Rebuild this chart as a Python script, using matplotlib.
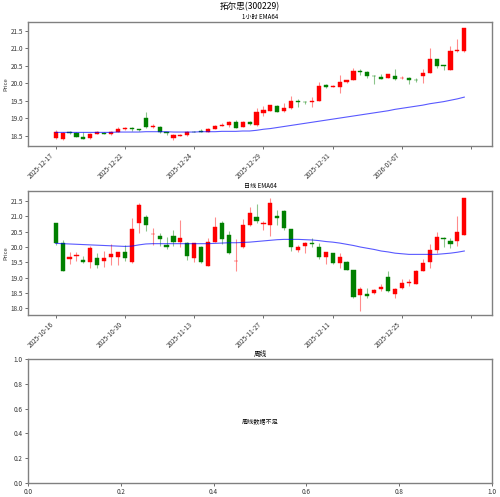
import numpy as np
import matplotlib
matplotlib.use("Agg")
import matplotlib.pyplot as plt

plt.rcParams['font.family'] = ['Noto Sans CJK SC', 'DejaVu Sans']
plt.rcParams['axes.unicode_minus'] = False

# ---- 1 hour bars ----
h_labels = ['2025-12-17', '2025-12-22', '2025-12-24', '2025-12-29', '2025-12-31', '2026-01-07', '']
h_open = [18.43, 18.40, 18.59, 18.56, 18.47, 18.44, 18.55, 18.58, 18.54, 18.60,
          18.69, 18.71, 18.68, 18.99, 18.75, 18.75, 18.59, 18.43, 18.49, 18.52,
          18.61, 18.64, 18.61, 18.69, 18.77, 18.81, 18.88, 18.75, 18.89, 18.80,
          19.14, 19.21, 19.35, 19.20, 19.28, 19.49, 19.46, 19.47, 19.49, 19.94,
          19.90, 19.90, 20.03, 20.09, 20.36, 20.33, 20.21, 20.19, 20.15, 20.20,
          20.14, 20.15, 20.10, 20.21, 20.29, 20.69, 20.52, 20.38, 20.91, 20.91]
h_close = [18.60, 18.58, 18.57, 18.47, 18.41, 18.54, 18.59, 18.55, 18.60, 18.68,
           18.71, 18.69, 18.67, 18.74, 18.78, 18.59, 18.56, 18.52, 18.51, 18.61,
           18.60, 18.61, 18.70, 18.77, 18.80, 18.89, 18.73, 18.90, 18.83, 19.17,
           19.24, 19.36, 19.18, 19.30, 19.50, 19.47, 19.45, 19.49, 19.92, 19.89,
           19.93, 20.04, 20.08, 20.35, 20.33, 20.21, 20.20, 20.13, 20.26, 20.13,
           20.16, 20.08, 20.08, 20.29, 20.69, 20.48, 20.48, 20.93, 20.95, 21.58]
h_high = [18.66, 18.61, 18.62, 18.60, 18.61, 18.56, 18.62, 18.60, 18.62, 18.74,
          18.74, 18.74, 18.70, 19.16, 18.82, 18.77, 18.60, 18.55, 18.53, 18.62,
          18.62, 18.68, 18.72, 18.79, 18.85, 18.93, 18.94, 18.91, 18.91, 19.29,
          19.34, 19.37, 19.36, 19.43, 19.63, 19.55, 19.50, 19.60, 20.03, 19.97,
          19.95, 20.23, 20.10, 20.43, 20.40, 20.34, 20.22, 20.25, 20.27, 20.41,
          20.20, 20.19, 20.15, 20.41, 21.00, 20.70, 20.53, 21.07, 21.25, 21.58]
h_low = [18.40, 18.36, 18.55, 18.46, 18.40, 18.41, 18.53, 18.53, 18.51, 18.59,
         18.67, 18.63, 18.63, 18.71, 18.72, 18.58, 18.52, 18.37, 18.48, 18.50,
         18.59, 18.60, 18.60, 18.68, 18.76, 18.74, 18.71, 18.74, 18.79, 18.77,
         19.07, 19.19, 19.16, 19.17, 19.27, 19.33, 19.41, 19.32, 19.48, 19.87,
         19.89, 19.72, 20.01, 20.08, 20.24, 20.16, 19.98, 20.12, 20.14, 20.09,
         20.11, 19.97, 20.02, 20.01, 20.28, 20.42, 20.38, 20.37, 20.90, 20.90]
h_ema = [18.59, 18.59, 18.59, 18.59, 18.59, 18.59, 18.59, 18.59, 18.59, 18.60,
         18.60, 18.60, 18.60, 18.61, 18.61, 18.61, 18.61, 18.60, 18.60, 18.60,
         18.60, 18.61, 18.61, 18.61, 18.62, 18.62, 18.62, 18.63, 18.63, 18.65,
         18.68, 18.70, 18.73, 18.76, 18.79, 18.82, 18.85, 18.88, 18.91, 18.94,
         18.97, 19.00, 19.03, 19.06, 19.09, 19.12, 19.15, 19.18, 19.21, 19.25,
         19.28, 19.31, 19.34, 19.37, 19.41, 19.44, 19.47, 19.51, 19.55, 19.60]

# ---- daily bars ----
d_labels = ['2025-10-16', '2025-10-30', '2025-11-13', '2025-11-27', '2025-12-11', '2025-12-25', '']
d_open = [20.79, 20.14, 19.61, 19.71, 19.57, 19.52, 19.65, 19.54, 19.68, 19.67,
          19.83, 19.50, 20.80, 20.99, 20.41, 20.36, 20.07, 20.35, 20.17, 20.14,
          19.65, 20.01, 19.39, 20.17, 20.80, 20.39, 19.53, 20.00, 20.72, 20.99,
          20.74, 20.72, 21.00, 21.18, 20.59, 19.90, 20.02, 20.13, 19.99, 19.68,
          19.81, 19.47, 19.51, 19.25, 18.43, 18.46, 18.49, 18.62, 19.01, 18.46,
          18.66, 18.82, 18.79, 19.23, 19.50, 19.90, 20.31, 20.20, 20.21, 20.39]
d_close = [20.12, 19.23, 19.67, 19.74, 19.52, 19.96, 19.41, 19.65, 19.78, 19.83,
           19.65, 20.59, 21.37, 20.73, 20.43, 20.25, 20.00, 20.17, 20.28, 19.72,
           20.12, 19.50, 20.17, 20.66, 20.26, 19.79, 19.56, 20.72, 21.10, 20.85,
           20.77, 21.45, 20.96, 20.63, 19.99, 20.01, 20.14, 20.10, 19.66, 19.83,
           19.47, 19.68, 19.25, 18.38, 18.62, 18.41, 18.60, 18.71, 18.56, 18.63,
           18.82, 18.87, 19.22, 19.47, 19.90, 20.33, 20.26, 20.09, 20.49, 21.59]
d_high = [20.80, 20.23, 19.85, 19.85, 19.71, 20.05, 19.81, 19.87, 20.10, 19.85,
          20.07, 20.94, 21.43, 21.05, 20.61, 20.45, 20.32, 20.55, 20.88, 20.16,
          20.14, 20.02, 20.28, 20.99, 20.85, 20.51, 20.27, 20.93, 21.30, 21.40,
          20.86, 21.60, 21.20, 21.20, 20.60, 20.08, 20.17, 20.29, 20.13, 19.85,
          19.82, 19.79, 19.56, 19.26, 18.70, 18.65, 18.63, 18.78, 19.21, 18.66,
          18.95, 18.97, 19.25, 19.62, 20.10, 20.50, 20.32, 20.28, 21.00, 21.59]
d_low = [20.08, 19.22, 19.46, 19.55, 19.47, 19.30, 19.33, 19.35, 19.42, 19.42,
         19.56, 19.48, 20.46, 20.52, 20.08, 20.04, 19.95, 20.04, 20.00, 19.57,
         19.50, 19.48, 19.37, 20.15, 20.10, 19.77, 19.23, 19.97, 20.70, 20.80,
         20.57, 20.35, 20.71, 20.55, 19.86, 19.84, 19.79, 20.00, 19.62, 19.46,
         19.45, 19.30, 19.24, 18.33, 17.92, 18.35, 18.45, 18.58, 18.53, 18.35,
         18.62, 18.74, 18.78, 19.22, 19.33, 19.80, 20.00, 19.98, 20.03, 20.38]
d_ema = [20.12, 20.11, 20.10, 20.09, 20.08, 20.07, 20.06, 20.05, 20.04, 20.03,
         20.02, 20.03, 20.07, 20.10, 20.11, 20.11, 20.11, 20.11, 20.11, 20.11,
         20.11, 20.11, 20.11, 20.12, 20.13, 20.14, 20.14, 20.15, 20.16, 20.18,
         20.20, 20.22, 20.24, 20.25, 20.25, 20.25, 20.24, 20.23, 20.21, 20.18,
         20.16, 20.13, 20.09, 20.05, 20.00, 19.96, 19.92, 19.87, 19.84, 19.80,
         19.78, 19.76, 19.76, 19.76, 19.76, 19.76, 19.78, 19.80, 19.83, 19.87]

UP = '#ff0000'
DOWN = '#008000'
SPINE = '#808080'
TXT = '#333333'


def style_axes(ax):
    for s in ax.spines.values():
        s.set_color(SPINE)
        s.set_linewidth(1.0)
    ax.tick_params(labelsize=4.6, colors=TXT, length=2.5, width=0.5, pad=1.2)


def draw_candles(ax, opens, closes, highs, lows, ema, labels, ylim, title):
    x = np.arange(len(opens))
    o = np.array(opens)
    c = np.array(closes)
    colors = [UP if cc >= oo else DOWN for oo, cc in zip(o, c)]
    ax.vlines(x, lows, highs, colors=colors, linewidth=0.8, alpha=0.45)
    bottoms = np.minimum(o, c)
    heights = np.maximum(np.abs(c - o), 0.015)
    ax.bar(x, heights, bottom=bottoms, width=0.6, color=colors, edgecolor=colors, linewidth=0.3)
    ax.plot(x, ema, color='blue', linewidth=0.8, alpha=0.65)
    ax.set_xlim(-4, 63)
    ax.set_ylim(*ylim)
    ax.set_xticks(np.arange(0, len(opens) + 1, 10))
    ax.set_xticklabels(labels, rotation=45, ha='right')
    ax.set_ylabel('Price', fontsize=4.2, color=TXT, labelpad=1)
    ax.set_title(title, fontsize=4.4, pad=2)
    style_axes(ax)


fig = plt.figure(figsize=(5, 4.97), dpi=100)
fig.suptitle('拓尔思(300229)', fontsize=6.2, y=0.996)

ax1 = fig.add_axes([0.056, 0.7062, 0.928, 0.2495])
draw_candles(ax1, h_open, h_close, h_high, h_low, h_ema, h_labels, (18.2, 21.75), '1小时 EMA64')

ax2 = fig.add_axes([0.056, 0.3662, 0.928, 0.2501])
draw_candles(ax2, d_open, d_close, d_high, d_low, d_ema, d_labels, (17.78, 21.84), '日线 EMA64')
ax2.set_yticks(np.arange(18.0, 21.51, 0.5))

ax3 = fig.add_axes([0.056, 0.0282, 0.928, 0.2495])
ax3.set_title('周线', fontsize=4.8, pad=2)
ax3.text(0.5, 0.5, '周线数据不足', ha='center', va='center', fontsize=4.4, transform=ax3.transAxes)
style_axes(ax3)

fig.savefig('out.png', dpi=100)
